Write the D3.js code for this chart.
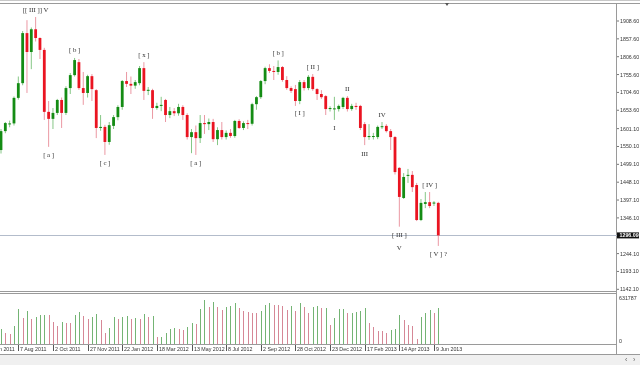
<!DOCTYPE html>
<html>
<head>
<meta charset="utf-8">
<script src="https://cdn.jsdelivr.net/npm/d3@7"></script>
<style>
  body { margin: 0; background: #fff; }
  svg { display: block; will-change: transform; }
</style>
</head>
<body>
<div id="chart"></div>
<script>
(function() {
    const width = 640;
    const height = 365;
    const plotRight = 617;

    // weekly bars, first one is the week of 10 Jul 2011
    const firstWeek = Date.UTC(2011, 6, 10);

    const opens = [1540, 1594, 1614, 1616, 1689, 1731, 1874, 1820, 1885, 1860,
        1826, 1649, 1629, 1646, 1683, 1646, 1717, 1754, 1791, 1717,
        1703, 1751, 1711, 1603, 1606, 1563, 1609, 1634, 1663, 1737,
        1729, 1724, 1731, 1774, 1709, 1711, 1660, 1666, 1683, 1640,
        1651, 1645, 1663, 1640, 1577, 1591, 1574, 1617, 1614, 1620,
        1571, 1597, 1577, 1589, 1580, 1623, 1603, 1617, 1615, 1671,
        1691, 1737, 1774, 1766, 1763, 1777, 1740, 1717, 1714, 1680,
        1734, 1717, 1749, 1714, 1700, 1694, 1657, 1657, 1657, 1663,
        1689, 1657, 1666, 1666, 1614, 1577, 1578, 1577, 1606, 1609,
        1594, 1577, 1489, 1403, 1466, 1469, 1440, 1340, 1386, 1391,
        1387, 1389];
    const highs = [1600, 1620, 1624, 1693, 1750, 1880, 1911, 1890, 1920, 1862,
        1832, 1680, 1660, 1686, 1690, 1722, 1760, 1803, 1800, 1763,
        1755, 1757, 1714, 1640, 1612, 1620, 1640, 1668, 1740, 1763,
        1750, 1740, 1780, 1791, 1720, 1715, 1675, 1692, 1686, 1663,
        1660, 1672, 1668, 1645, 1600, 1610, 1640, 1640, 1630, 1629,
        1605, 1620, 1596, 1600, 1626, 1628, 1622, 1626, 1675, 1694,
        1740, 1778, 1785, 1780, 1796, 1780, 1751, 1722, 1726, 1740,
        1740, 1754, 1757, 1717, 1711, 1697, 1665, 1692, 1670, 1692,
        1694, 1672, 1675, 1669, 1620, 1614, 1589, 1610, 1620, 1614,
        1600, 1580, 1491, 1474, 1486, 1480, 1446, 1400, 1420, 1420,
        1394, 1392];
    const lows = [1530, 1588, 1605, 1610, 1684, 1725, 1703, 1771, 1850, 1800,
        1626, 1549, 1600, 1640, 1603, 1640, 1700, 1750, 1712, 1669,
        1690, 1680, 1574, 1595, 1526, 1555, 1600, 1625, 1655, 1720,
        1700, 1715, 1725, 1683, 1697, 1629, 1655, 1651, 1620, 1631,
        1637, 1638, 1626, 1570, 1531, 1526, 1560, 1586, 1597, 1563,
        1554, 1570, 1570, 1575, 1575, 1600, 1597, 1600, 1610, 1655,
        1686, 1728, 1760, 1740, 1755, 1735, 1712, 1703, 1666, 1671,
        1710, 1711, 1709, 1683, 1686, 1640, 1650, 1626, 1650, 1657,
        1650, 1652, 1655, 1597, 1554, 1569, 1570, 1571, 1600, 1590,
        1540, 1470, 1321, 1400, 1446, 1420, 1337, 1337, 1374, 1374,
        1380, 1266];
    const closes = [1594, 1617, 1616, 1689, 1731, 1874, 1820, 1885, 1860, 1826,
        1649, 1629, 1646, 1683, 1646, 1717, 1754, 1797, 1717, 1703,
        1751, 1714, 1603, 1606, 1563, 1611, 1634, 1663, 1737, 1729,
        1724, 1734, 1774, 1709, 1712, 1660, 1666, 1669, 1640, 1651,
        1645, 1663, 1640, 1577, 1591, 1574, 1617, 1614, 1620, 1571,
        1597, 1577, 1589, 1580, 1623, 1603, 1617, 1615, 1671, 1691,
        1737, 1774, 1766, 1763, 1777, 1740, 1717, 1709, 1680, 1734,
        1717, 1749, 1714, 1700, 1691, 1657, 1660, 1659, 1666, 1689,
        1657, 1666, 1663, 1603, 1577, 1580, 1580, 1606, 1608, 1594,
        1577, 1477, 1406, 1463, 1469, 1434, 1340, 1389, 1391, 1380,
        1390, 1296.09];
    const volumes = [193, 150, 130, 237, 457, 338, 434, 325, 360, 380,
        385, 380, 293, 237, 286, 280, 272, 380, 425, 372,
        325, 351, 391, 316, 149, 207, 359, 329, 359, 362,
        325, 338, 325, 395, 355, 368, 88, 96, 149, 193,
        207, 200, 184, 228, 272, 263, 457, 579, 490, 557,
        483, 447, 491, 504, 536, 478, 438, 417, 412, 403,
        438, 513, 536, 513, 510, 500, 447, 500, 434, 536,
        483, 403, 491, 504, 470, 474, 250, 338, 457, 460,
        403, 407, 425, 438, 478, 272, 228, 171, 168, 141,
        184, 197, 382, 316, 250, 237, 66, 351, 403, 447,
        403, 470].map(v => v * 1000);

    const priceTicks = ["1908.60", "1857.60", "1806.60", "1755.60", "1704.60", "1653.60",
        "1601.10", "1550.10", "1499.10", "1448.10", "1397.10", "1346.10",
        "1244.10", "1193.10", "1142.10"];
    const dateTicks = ["12 Jun 2011", "7 Aug 2011", "2 Oct 2011", "27 Nov 2011", "22 Jan 2012",
        "18 Mar 2012", "13 May 2012", "8 Jul 2012", "2 Sep 2012", "28 Oct 2012",
        "23 Dec 2012", "17 Feb 2013", "14 Apr 2013", "9 Jun 2013"];
    const volumeMax = 631787;
    const lastPriceLabel = "1296.09";

    // Elliott wave marks: bar index, above the high or below the low
    const waveLabels = [
        { text: "[[ III ]] V", bar: 8, side: "above" },
        { text: "[ a ]", bar: 11, side: "below" },
        { text: "[ b ]", bar: 17, side: "above" },
        { text: "[ c ]", bar: 24, side: "below" },
        { text: "[ x ]", bar: 33, side: "above" },
        { text: "[ a ]", bar: 45, side: "below" },
        { text: "[ b ]", bar: 64, side: "above" },
        { text: "[ I ]", bar: 69, side: "below" },
        { text: "[ II ]", bar: 72, side: "above" },
        { text: "I", bar: 77, side: "below" },
        { text: "II", bar: 80, side: "above" },
        { text: "III", bar: 84, side: "below" },
        { text: "IV", bar: 88, side: "above" },
        { text: "[ III ]|V", bar: 92, side: "below" },
        { text: "[ IV ]", bar: 99, side: "above" },
        { text: "[ V ] ?", bar: 101, side: "below" }
    ];

    const bars = opens.map((o, i) => ({
        date: d3.utcWeek.offset(new Date(firstWeek), i),
        open: o, high: highs[i], low: lows[i], close: closes[i],
        volume: volumes[i],
        volUp: i == 0 || volumes[i] > volumes[i - 1]
    }));

    const x = d3.scaleUtc()
        .domain([bars[0].date, bars[bars.length - 1].date])
        .range([1, 438.3]);
    const y = d3.scaleLinear()
        .domain([1142.1, 1908.6])
        .range([289.3, 21]);
    const yVol = d3.scaleLinear()
        .domain([0, volumeMax])
        .range([344, 296]);

    const svg = d3.select("#chart").append("svg")
        .attr("width", width)
        .attr("height", height)
        .style("font-family", "'Liberation Sans', Arial, sans-serif");

    // bottom scroll strip
    svg.append("rect")
        .attr("x", 0).attr("y", 355)
        .attr("width", width).attr("height", 10)
        .attr("fill", "#f0f0f0");
    svg.append("text")
        .attr("x", 625).attr("y", 362)
        .attr("font-size", 7).attr("fill", "#666")
        .text("\u2039");
    svg.append("text")
        .attr("x", 633).attr("y", 362)
        .attr("font-size", 7).attr("fill", "#666")
        .text("\u203A");

    // frame lines
    const frame = svg.append("g")
        .attr("stroke", "#9a9a9a")
        .attr("shape-rendering", "crispEdges");
    frame.append("line").attr("x1", 0).attr("x2", width).attr("y1", 0.5).attr("y2", 0.5).attr("stroke", "#c8c8c8");
    frame.append("line").attr("x1", 0).attr("x2", width).attr("y1", 3.5).attr("y2", 3.5);
    frame.append("line").attr("x1", 0).attr("x2", plotRight).attr("y1", 291.5).attr("y2", 291.5);
    frame.append("line").attr("x1", 0).attr("x2", plotRight).attr("y1", 293.5).attr("y2", 293.5);
    frame.append("line").attr("x1", 0).attr("x2", plotRight).attr("y1", 344.5).attr("y2", 344.5);
    frame.append("line").attr("x1", 0).attr("x2", width).attr("y1", 354.5).attr("y2", 354.5);
    frame.append("line").attr("x1", plotRight - 0.5).attr("x2", plotRight - 0.5).attr("y1", 3.5).attr("y2", 354.5);

    // chart shift marker
    svg.append("path")
        .attr("d", "M445,3 L449,3 L447,6 Z")
        .attr("fill", "#555");

    // last price line
    const lastY = y(closes[closes.length - 1]);
    svg.append("line")
        .attr("x1", 0).attr("x2", plotRight)
        .attr("y1", Math.round(lastY) + 0.5).attr("y2", Math.round(lastY) + 0.5)
        .attr("stroke", "#b3bccb")
        .attr("shape-rendering", "crispEdges");

    // candles
    const candles = svg.append("g")
        .selectAll("g")
        .data(bars)
        .enter()
        .append("g");

    candles.append("line")
        .attr("x1", d => x(d.date))
        .attr("x2", d => x(d.date))
        .attr("y1", d => y(d.high))
        .attr("y2", d => y(d.low))
        .attr("stroke", d => d.close >= d.open ? "#86c786" : "#eb98a3")
        .attr("stroke-width", 1);

    candles.append("rect")
        .attr("x", d => x(d.date) - 1.4)
        .attr("width", 2.8)
        .attr("y", d => y(Math.max(d.open, d.close)))
        .attr("height", d => Math.max(1, Math.abs(y(d.open) - y(d.close))))
        .attr("fill", d => d.close >= d.open ? "#148c14" : "#ea1421");

    // volume bars
    svg.append("g")
        .selectAll("line")
        .data(bars)
        .enter()
        .append("line")
        .attr("x1", d => Math.round(x(d.date)) + 0.5)
        .attr("x2", d => Math.round(x(d.date)) + 0.5)
        .attr("y1", yVol(0))
        .attr("y2", d => yVol(d.volume))
        .attr("stroke", d => d.volUp ? "#74b474" : "#d68796")
        .attr("shape-rendering", "crispEdges");

    // wave labels
    const waves = svg.append("g")
        .attr("font-family", "'Liberation Serif', 'Times New Roman', serif")
        .attr("font-size", 6.8)
        .attr("fill", "#333")
        .attr("text-anchor", "middle");
    waveLabels.forEach(w => {
        const b = bars[w.bar];
        const lines = w.text.split("|");
        const y0 = w.side == "above" ? y(b.high) - 8 : y(b.low) + 8;
        lines.forEach((t, k) => {
            waves.append("text")
                .attr("x", x(b.date))
                .attr("y", y0 + k * 13)
                .attr("dominant-baseline", "central")
                .text(t);
        });
    });

    // price scale
    const pAxis = svg.append("g")
        .attr("font-size", 5.3)
        .attr("fill", "#333");
    priceTicks.forEach(t => {
        const py = y(+t);
        pAxis.append("line")
            .attr("x1", plotRight).attr("x2", plotRight + 2)
            .attr("y1", py).attr("y2", py)
            .attr("stroke", "#777");
        pAxis.append("text")
            .attr("x", 620).attr("y", py)
            .attr("dominant-baseline", "central")
            .text(t);
    });

    // last price box
    svg.append("rect")
        .attr("x", plotRight).attr("y", lastY - 3)
        .attr("width", 22).attr("height", 6)
        .attr("fill", "#111");
    svg.append("text")
        .attr("x", 619.5).attr("y", lastY)
        .attr("dominant-baseline", "central")
        .attr("font-size", 5.3)
        .attr("font-weight", "bold")
        .attr("fill", "#fff")
        .text(lastPriceLabel);

    // volume scale
    svg.append("text")
        .attr("x", 619).attr("y", yVol(volumeMax) + 2)
        .attr("dominant-baseline", "central")
        .attr("font-size", 5.3).attr("fill", "#333")
        .text(volumeMax);
    svg.append("text")
        .attr("x", 619).attr("y", yVol(0) - 3)
        .attr("dominant-baseline", "central")
        .attr("font-size", 5.3).attr("fill", "#333")
        .text("0");

    // date scale
    const parseDate = d3.utcParse("%d %b %Y");
    const dAxis = svg.append("g")
        .attr("font-size", 5.3)
        .attr("fill", "#333");
    dateTicks.forEach(t => {
        const dx = Math.round(x(parseDate(t))) + 0.5;
        dAxis.append("line")
            .attr("x1", dx).attr("x2", dx)
            .attr("y1", 344.5).attr("y2", 351)
            .attr("stroke", "#555")
            .attr("shape-rendering", "crispEdges");
        dAxis.append("text")
            .attr("x", dx + 1.5).attr("y", 349)
            .attr("dominant-baseline", "central")
            .text(t);
    });
})();
</script>
</body>
</html>
